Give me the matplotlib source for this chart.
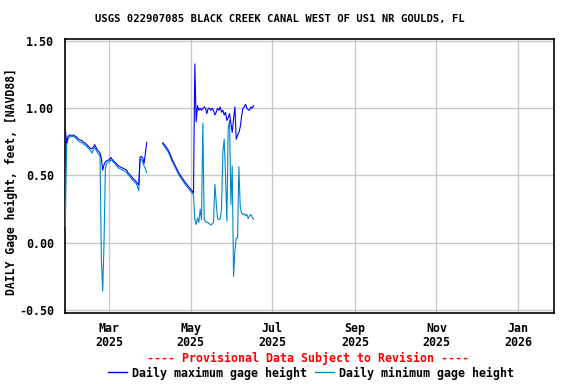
import numpy as np
import pandas as pd
import matplotlib
matplotlib.use("Agg")
import matplotlib.pyplot as plt
import matplotlib.dates as mdates
from matplotlib.lines import Line2D

# ---------------- data ----------------
start_date = "2025-01-27"

seg1_max = [0.85, 0.74, 0.79, 0.80, 0.80, 0.80, 0.80, 0.795, 0.79, 0.78,
            0.77, 0.765, 0.76, 0.755, 0.745, 0.74, 0.73, 0.72, 0.71, 0.70,
            0.70, 0.71, 0.73, 0.71, 0.69, 0.68, 0.665, 0.63, 0.54, 0.58,
            0.60, 0.61, 0.615, 0.615, 0.635, 0.62, 0.61, 0.60, 0.59, 0.58,
            0.57, 0.565, 0.56, 0.555, 0.55, 0.545, 0.54, 0.52, 0.51, 0.50,
            0.485, 0.475, 0.465, 0.455, 0.44, 0.43, 0.64, 0.64, 0.63, 0.59,
            0.665, 0.745]
seg1_min = [0.12, 0.73, 0.77, 0.785, 0.79, 0.79, 0.79, 0.785, 0.775, 0.765,
            0.755, 0.75, 0.745, 0.74, 0.73, 0.725, 0.715, 0.705, 0.695, 0.685,
            0.665, 0.69, 0.71, 0.69, 0.67, 0.66, 0.64, -0.12, -0.36, 0.0,
            0.55, 0.59, 0.60, 0.60, 0.615, 0.61, 0.60, 0.59, 0.575, 0.565,
            0.555, 0.55, 0.545, 0.54, 0.535, 0.53, 0.52, 0.505, 0.495, 0.485,
            0.47, 0.46, 0.45, 0.44, 0.42, 0.385, 0.62, 0.62, 0.60, 0.57,
            0.55, 0.52]
gap_days = 11
seg2_max = [0.745, 0.73, 0.72, 0.705, 0.69, 0.67, 0.645, 0.62, 0.60, 0.58,
            0.56, 0.54, 0.52, 0.505, 0.49, 0.475, 0.46, 0.445, 0.435, 0.42,
            0.41, 0.395, 0.385, 0.37,
            1.33, 0.90, 1.02, 0.985, 1.0, 0.985, 1.0, 1.01, 1.0, 0.96,
            1.0, 1.0, 0.985, 1.0, 0.985, 0.95, 0.97, 1.0, 0.985, 1.01,
            0.97, 0.985, 0.95, 0.97, 0.91, 0.93, 0.96, 0.89, 0.82, 0.92,
            1.01, 0.77, 0.80, 0.82, 0.86, 0.935, 1.0, 1.01, 1.03, 1.0,
            0.99, 0.985, 1.01, 1.0, 1.02]
seg2_min = [0.735, 0.72, 0.705, 0.69, 0.675, 0.655, 0.63, 0.605, 0.585, 0.565,
            0.545, 0.525, 0.505, 0.49, 0.475, 0.46, 0.445, 0.43, 0.42, 0.405,
            0.395, 0.38, 0.37, 0.355,
            0.17, 0.135, 0.185, 0.15, 0.25, 0.17, 0.89, 0.17, 0.16, 0.15,
            0.15, 0.14, 0.13, 0.14, 0.15, 0.435, 0.30, 0.18, 0.17, 0.18,
            0.25, 0.67, 0.77, 0.50, 0.16, 0.85, 0.91, 0.285, 0.57, -0.25,
            -0.06, 0.035, 0.035, 0.565, 0.27, 0.22, 0.21, 0.215, 0.20, 0.21,
            0.18, 0.20, 0.21, 0.19, 0.175]

yticks = [-0.5, 0.0, 0.5, 1.0, 1.5]
ytick_labels = ["-0.50", "0.00", "0.50", "1.00", "1.50"]
xtick_dates = ["2025-03-01", "2025-05-01", "2025-07-01", "2025-09-01",
               "2025-11-01", "2026-01-01"]
xtick_labels = ["Mar\n2025", "May\n2025", "Jul\n2025", "Sep\n2025",
                "Nov\n2025", "Jan\n2026"]

title = "USGS 022907085 BLACK CREEK CANAL WEST OF US1 NR GOULDS, FL"
ylabel = "DAILY Gage height, feet, [NAVD88]"
provisional = "---- Provisional Data Subject to Revision ----"
legend_labels = ["Daily maximum gage height", "Daily minimum gage height"]

# ---------------- build series ----------------
vmax = seg1_max + [np.nan] * gap_days + seg2_max
vmin = seg1_min + [np.nan] * gap_days + seg2_min
dates = pd.date_range(start_date, periods=len(vmax), freq="D")

col_max = "#0000ff"
col_min = "#0088cc"
font = "DejaVu Sans Mono"

fig = plt.figure(figsize=(5.76, 3.84), dpi=100)
ax = fig.add_axes([65.3 / 576, 1 - 313.3 / 384, (554 - 65.3) / 576, (313.3 - 39.3) / 384])

ax.plot(dates, vmin, color=col_min, lw=0.8, zorder=3)
ax.plot(dates, vmax, color=col_max, lw=0.8, zorder=4)

ax.set_xlim(pd.Timestamp("2025-01-27"), pd.Timestamp("2026-01-28"))
ax.set_ylim(-0.525, 1.513)

ax.set_yticks(yticks)
ax.set_yticklabels(ytick_labels, fontfamily=font, fontweight="bold", fontsize=8.4)
ax.set_xticks(pd.to_datetime(xtick_dates))
ax.set_xticklabels(xtick_labels, fontfamily=font, fontweight="bold", fontsize=8.4,
                   linespacing=1.15)
ax.tick_params(axis="both", length=0)
ax.tick_params(axis="y", pad=8)
ax.tick_params(axis="x", pad=6)

ax.grid(True, color="#c8c8c8", lw=1.0)
ax.set_axisbelow(True)
for s in ax.spines.values():
    s.set_color("black")
    s.set_linewidth(1.2)

fig.text(11 / 576, 1 - 182 / 384, ylabel, rotation=90, ha="center", va="center",
         fontfamily=font, fontweight="bold", fontsize=8.3)
fig.text(280 / 576, 1 - 19 / 384, title, ha="center", va="center",
         fontfamily=font, fontweight="bold", fontsize=7.6)
fig.text(308 / 576, 1 - 358 / 384, provisional, ha="center", va="center",
         color="red", fontfamily=font, fontweight="bold", fontsize=8.4)

handles = [Line2D([], [], color=col_max, lw=1.0), Line2D([], [], color=col_min, lw=1.0)]
fig.legend(handles, legend_labels, loc="center", bbox_to_anchor=(311 / 576, 1 - 373 / 384),
           ncol=2, frameon=False, handlelength=1.6, handletextpad=0.45,
           columnspacing=0.7, borderpad=0, borderaxespad=0,
           prop={"family": font, "weight": "bold", "size": 8.4})

fig.savefig("out.png", dpi=100)
